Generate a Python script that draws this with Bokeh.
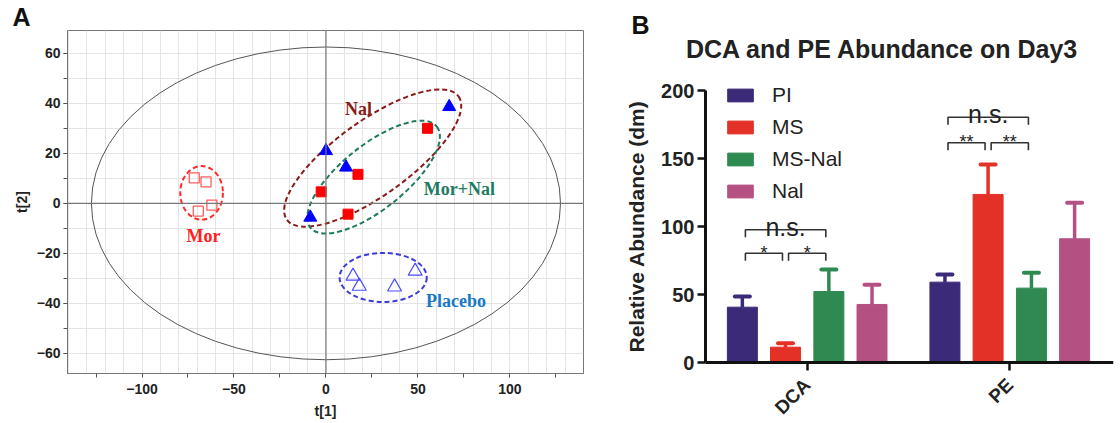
import math
from bokeh.plotting import figure
from bokeh.layouts import row, column
from bokeh.models import (Range1d, SingleIntervalTicker, FixedTicker, Span, Label,
                          Legend, LegendItem)
from bokeh.core.properties import value
from bokeh.embed import file_html
from bokeh.resources import INLINE

# ---------------- Panel A data (scores t[1], t[2]) ----------------
mor_t1 = [-71.6, -65.2, -62.0, -69.4]
mor_t2 = [10.2, 8.6, -0.7, -3.1]
mornal_t1 = [55.2, 17.4, -2.6, 12.0]
mornal_t2 = [30.0, 11.6, 4.6, -4.3]
nal_t1 = [67.0, 0.0, 10.9, -8.5]
nal_t2 = [38.6, 21.0, 14.4, -5.6]
placebo_t1 = [14.7, 18.1, 37.3, 48.5]
placebo_t2 = [-29.1, -33.1, -33.4, -27.1]

# confidence ellipses: Hotelling T2 + group ellipses
ell_names = ["T2", "Mor", "Nal", "Mor+Nal", "Placebo"]
ell_cx = [0.0, -67.6, 25.4, 25.9, 31.1]
ell_cy = [0.0, 4.2, 18.1, 10.5, -29.6]
ell_w = [255.0, 23.2, 114.9, 88.0, 47.4]
ell_h = [125.0, 21.4, 29.8, 25.6, 19.6]
ell_angle = [0.0, 0.0, 0.623, 0.674, 0.0]
ell_colors = ["#555555", "#ff2a2a", "#8b1a1a", "#1e7b5e", "#3c3cdc"]

grp_labels = ["Mor", "Nal", "Mor+Nal", "Placebo"]
grp_label_t1 = [-66.6, 17.7, 72.5, 70.7]
grp_label_t2 = [-13.1, 37.6, 5.8, -39.0]
grp_label_colors = ["#ff2020", "#8b1a1a", "#1e7b5e", "#1a78c8"]

# ---------------- Panel B data ----------------
categories = ["DCA", "PE"]
series = ["PI", "MS", "MS-Nal", "Nal"]
pi_mean = [40.9, 59.3]
pi_err = [7.9, 5.6]
ms_mean = [11.5, 123.8]
ms_err = [2.9, 22.0]
msnal_mean = [52.4, 54.9]
msnal_err = [16.2, 11.3]
nal_mean = [42.9, 91.2]
nal_err = [14.5, 26.4]
series_colors = ["#3b2a78", "#e33127", "#2f8a52", "#b55083"]

# significance brackets: category index, left series, right series, height, text
sig_cat = [0, 0, 0, 1, 1, 1]
sig_left = [0, 1, 0, 0, 1, 0]
sig_right = [1, 2, 2, 1, 2, 2]
sig_y = [80.6, 80.6, 97.8, 161.8, 161.8, 180.6]
sig_text = ["*", "*", "n.s.", "**", "**", "n.s."]

FONT = "Liberation Sans"

# ================= Panel A =================
pA = figure(width=590, height=423, x_range=Range1d(-140.5, 140), y_range=Range1d(-68.0, 69.1),
            output_backend="svg", toolbar_location=None,
            min_border_left=67, min_border_right=7, min_border_top=30, min_border_bottom=50)
pA.title.text = "A"
pA.title.align = "left"
pA.title.offset = -55
pA.title.standoff = 0
pA.title.text_font = FONT
pA.title.text_font_style = "bold"
pA.title.text_font_size = "25px"
pA.title.text_color = "#111111"

pA.outline_line_color = "#777777"
pA.xaxis.ticker = SingleIntervalTicker(interval=50, num_minor_ticks=2)
pA.yaxis.ticker = SingleIntervalTicker(interval=20, num_minor_ticks=2)
pA.xgrid.ticker = SingleIntervalTicker(interval=10)
pA.ygrid.ticker = SingleIntervalTicker(interval=10)
pA.grid.grid_line_color = "#e4e4e4"
for ax in (pA.xaxis[0], pA.yaxis[0]):
    ax.axis_line_color = "#777777"
    ax.major_tick_line_color = "#555555"
    ax.minor_tick_line_color = "#555555"
    ax.major_tick_out = 4
    ax.major_tick_in = 0
    ax.minor_tick_out = 4
    ax.minor_tick_in = 0
    ax.major_label_text_font = FONT
    ax.major_label_text_font_style = "bold"
    ax.major_label_text_font_size = "14px"
    ax.major_label_text_color = "#222222"
    ax.axis_label_text_font = FONT
    ax.axis_label_text_font_style = "bold"
    ax.axis_label_text_font_size = "14px"
    ax.axis_label_text_color = "#222222"
pA.xaxis.major_label_standoff = 6
pA.yaxis.major_label_standoff = 3
pA.xaxis.axis_label = "t[1]"
pA.yaxis.axis_label = "t[2]"
pA.xaxis.axis_label_standoff = 6
pA.yaxis.axis_label_standoff = 4

pA.add_layout(Span(location=0, dimension="height", line_color="#777777", line_width=1.2))
pA.add_layout(Span(location=0, dimension="width", line_color="#777777", line_width=1.2))

pA.ellipse(x=ell_cx[:1], y=ell_cy[:1], width=ell_w[:1], height=ell_h[:1], angle=ell_angle[:1],
           fill_color=None, line_color=ell_colors[0], line_width=1)
pA.ellipse(x=ell_cx[1:], y=ell_cy[1:], width=ell_w[1:], height=ell_h[1:], angle=ell_angle[1:],
           fill_color=None, line_color=ell_colors[1:], line_width=2, line_dash="5 3")

pA.scatter(mor_t1, mor_t2, marker="square", size=10, fill_color=None,
           line_color="#ff5c5c", line_width=1.3)
pA.scatter(mornal_t1, mornal_t2, marker="square", size=10, fill_color="#ff0000",
           line_color="#ff0000")
pA.scatter(nal_t1, nal_t2, marker="triangle", size=13, fill_color="#0000ff",
           line_color="#0000ff")
pA.scatter(placebo_t1, placebo_t2, marker="triangle", size=14, fill_color=None,
           line_color="#4a4aff", line_width=1.2)

pA.text(x=grp_label_t1, y=grp_label_t2, text=grp_labels, text_color=grp_label_colors,
        text_font=value("Liberation Serif"), text_font_style="bold", text_font_size="18px",
        text_align="center", text_baseline="middle")

# ================= Panel B =================
cat_pos = [1, 2]
offsets = [-0.32, -0.107, 0.107, 0.32]
bar_w = 0.148
cap_half = 0.037
axis_x0 = 0.498   # where the value axis stands
x_end = 2.512

pB = figure(width=530, height=423, x_range=Range1d(-0.0202, x_end),
            y_range=Range1d(-44.63, 266.4), title=None,
            output_backend="svg", toolbar_location=None,
            min_border_left=10, min_border_right=7, min_border_top=0, min_border_bottom=0)
pB.outline_line_color = None
pB.grid.visible = False

means_all = [pi_mean, ms_mean, msnal_mean, nal_mean]
errs_all = [pi_err, ms_err, msnal_err, nal_err]
items = []
for i, name in enumerate(series):
    xs = [c + offsets[i] for c in cat_pos]
    tops = means_all[i]
    ups = [m + e for m, e in zip(means_all[i], errs_all[i])]
    col = series_colors[i]
    pB.segment(x0=xs, y0=tops, x1=xs, y1=ups, line_color=col, line_width=3.5)
    pB.segment(x0=[x - cap_half for x in xs], y0=ups, x1=[x + cap_half for x in xs], y1=ups,
               line_color=col, line_width=4, line_cap="round")
    r = pB.vbar(x=xs, top=tops, bottom=0, width=bar_w, fill_color=col, line_color=col)
    items.append(LegendItem(label=name, renderers=[r]))

legend = Legend(items=items, location=(124, 220), orientation="vertical",
                glyph_width=32, glyph_height=16, label_height=16, spacing=8,
                padding=0, margin=0, border_line_color=None, background_fill_alpha=0,
                label_standoff=16, label_text_font=FONT, label_text_font_size="21px",
                label_text_color="#222222")
pB.add_layout(legend)

# significance brackets
d = 0.015
leg = 5.5
bx, by, ty_star, ty_ns, star_txt, ns_txt, sx_, ns_x = [], [], [], [], [], [], [], []
for k in range(len(sig_text)):
    g = cat_pos[sig_cat[k]]
    xl = g + offsets[sig_left[k]] + d
    xr = g + offsets[sig_right[k]] - d
    y = sig_y[k]
    bx.append([xl, xl, xr, xr])
    by.append([y - leg, y, y, y - leg])
    if sig_text[k] == "n.s.":
        ns_x.append((xl + xr) / 2)
        ty_ns.append(y + 2.4)
        ns_txt.append(sig_text[k])
    else:
        sx_.append((xl + xr) / 2)
        ty_star.append(y + 0.3)
        star_txt.append(sig_text[k])
pB.multi_line(xs=bx, ys=by, line_color="#333333", line_width=1.6)
pB.text(x=sx_, y=ty_star, text=star_txt, text_font=value(FONT), text_font_size="18px",
        text_align="center", text_baseline="alphabetic", text_color="#222222")
pB.text(x=ns_x, y=ty_ns, text=ns_txt, text_font=value(FONT), text_font_size="25px",
        text_align="center", text_baseline="alphabetic", text_color="#222222")

# axes
pB.yaxis.ticker = FixedTicker(ticks=[0, 50, 100, 150, 200])
pB.yaxis.bounds = (0, 200)
pB.yaxis.fixed_location = axis_x0
pB.xaxis.ticker = FixedTicker(ticks=cat_pos)
pB.xaxis.bounds = (axis_x0, x_end)
pB.xaxis.fixed_location = 0
pB.xaxis.major_label_overrides = {cat_pos[i]: categories[i] for i in range(len(categories))}
pB.xaxis.major_label_orientation = math.pi / 4
for ax in (pB.xaxis[0], pB.yaxis[0]):
    ax.axis_line_width = 3
    ax.axis_line_color = "#111111"
    ax.major_tick_line_width = 2.5
    ax.major_tick_line_color = "#111111"
    ax.major_tick_out = 8
    ax.major_tick_in = 0
    ax.minor_tick_line_color = None
    ax.major_label_text_font = FONT
    ax.major_label_text_font_style = "bold"
    ax.major_label_text_color = "#222222"
pB.yaxis.major_label_text_font_size = "20px"
pB.xaxis.major_label_text_font_size = "19px"
pB.yaxis.major_label_standoff = 3
pB.xaxis.major_label_standoff = 11
pB.yaxis.axis_label = "Relative Abundance (dm)"
pB.yaxis.axis_label_text_font = FONT
pB.yaxis.axis_label_text_font_style = "bold"
pB.yaxis.axis_label_text_font_size = "21px"
pB.yaxis.axis_label_text_color = "#222222"
pB.yaxis.axis_label_standoff = 10

pB.add_layout(Label(x=40, y=399, x_units="screen", y_units="screen", text="B",
                    text_font=FONT, text_font_style="bold", text_font_size="25px",
                    text_align="center", text_baseline="middle", text_color="#111111"))
pB.add_layout(Label(x=282, y=375, x_units="screen", y_units="screen",
                    text="DCA and PE Abundance on Day3", text_font=FONT,
                    text_font_style="bold", text_font_size="25px",
                    text_align="center", text_baseline="middle", text_color="#222222"))

layout = row(column(pA), column(pB))
open("out.html", "w").write(file_html(layout, INLINE))
